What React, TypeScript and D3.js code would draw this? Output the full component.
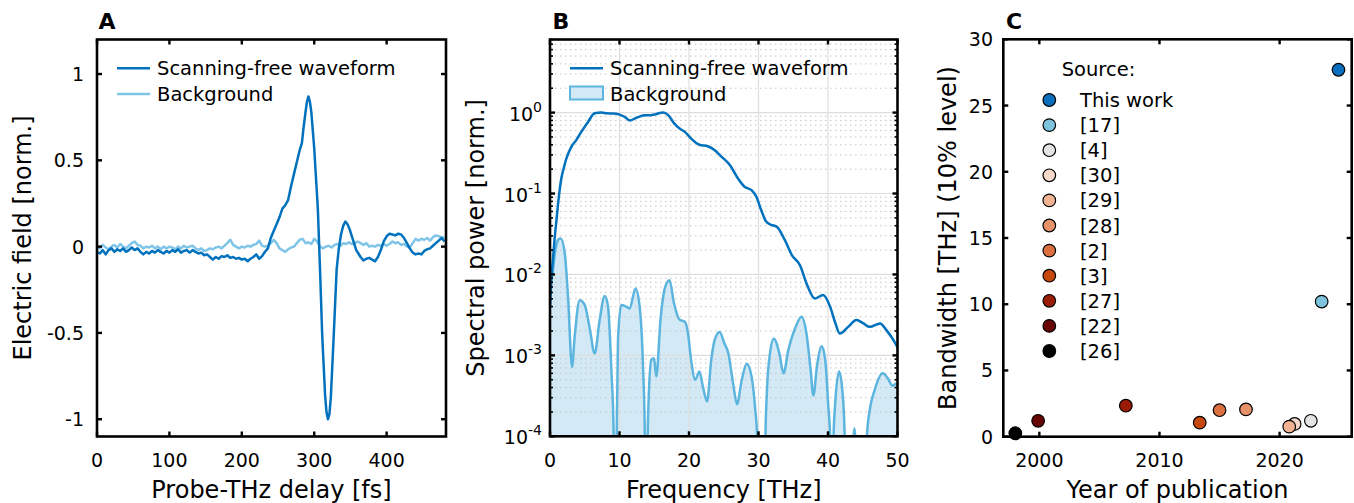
import React from 'react';
import * as d3 from 'd3';

const FONT = '"DejaVu Sans", Verdana, sans-serif';
const DARK = '#0072BD';
const LIGHT_A = '#80C5E8';
const LIGHT_B = '#5BB5DF';
const FILL_B = '#D3E9F5';

// ---- Panel A: time-domain waveforms [delay fs, field norm.]
const waveform: [number, number][] = [
  [0,-0.03],[4,-0.04],[8,-0.02],[12,-0.045],[16,-0.02],[20,-0.01],[24,-0.03],[28,-0.015],[32,-0.025],[36,-0.01],
  [40,-0.03],[44,-0.02],[48,-0.005],[52,-0.02],[56,-0.01],[60,-0.03],[64,-0.045],[68,-0.03],[72,-0.04],[76,-0.025],
  [80,-0.035],[84,-0.02],[88,-0.03],[92,-0.04],[96,-0.025],[100,-0.035],[104,-0.02],[108,-0.03],[112,-0.015],[116,-0.035],
  [120,-0.025],[124,-0.02],[128,-0.035],[132,-0.02],[136,-0.03],[140,-0.04],[144,-0.035],[148,-0.05],[152,-0.045],[156,-0.06],
  [160,-0.075],[164,-0.06],[168,-0.07],[172,-0.055],[176,-0.06],[180,-0.05],[184,-0.065],[188,-0.06],[192,-0.07],[196,-0.065],
  [200,-0.075],[204,-0.07],[208,-0.085],[212,-0.07],[216,-0.06],[220,-0.045],[224,-0.07],[228,-0.055],[232,-0.03],[236,-0.01],
  [240,0.05],[244,0.09],[248,0.13],[252,0.17],[256,0.22],[260,0.24],[264,0.27],[268,0.35],[272,0.42],[276,0.49],
  [280,0.56],[283,0.6],[285,0.68],[288,0.78],[290,0.84],[292,0.87],[294,0.84],[296,0.78],[300,0.57],[303,0.36],
  [305,0.22],[308,-0.13],[311,-0.51],[315,-0.86],[317,-0.96],[319,-1.0],[321,-0.97],[323,-0.87],[327,-0.51],[331,-0.13],
  [334,-0.01],[337,0.07],[340,0.12],[343,0.145],[346,0.13],[349,0.1],[352,0.06],[355,0.02],[358,-0.02],[361,-0.04],
  [364,-0.06],[368,-0.08],[372,-0.07],[376,-0.065],[380,-0.075],[384,-0.085],[388,-0.06],[392,-0.02],[396,0.03],[400,0.06],
  [404,0.075],[408,0.07],[412,0.065],[416,0.075],[420,0.07],[424,0.05],[428,0.02],[432,-0.01],[436,-0.035],[440,-0.045],
  [444,-0.04],[448,-0.045],[452,-0.025],[456,-0.015],[460,-0.01],[464,0.005],[468,0.02],[472,0.035],[476,0.05],[480,0.03],
];

const backgroundA: [number, number][] = [
  [0,0.0],[4,-0.01],[8,0.01],[12,-0.005],[16,-0.015],[20,0.0],[24,0.01],[28,-0.005],[32,0.015],[36,0.0],
  [40,-0.01],[44,0.005],[48,0.02],[52,0.03],[56,0.01],[60,0.005],[64,-0.01],[68,0.0],[72,-0.005],[76,0.005],
  [80,-0.01],[84,0.0],[88,-0.015],[92,0.0],[96,-0.01],[100,0.0],[104,-0.005],[108,-0.015],[112,0.0],[116,-0.01],
  [120,0.005],[124,-0.005],[128,0.0],[132,0.005],[136,-0.01],[140,-0.02],[144,-0.01],[148,-0.025],[152,-0.02],[156,-0.01],
  [160,-0.015],[164,-0.005],[168,0.0],[172,-0.01],[176,0.005],[180,0.02],[184,0.04],[188,0.01],[192,0.0],[196,-0.01],
  [200,0.0],[204,-0.005],[208,0.005],[212,0.0],[216,0.01],[220,0.015],[224,0.035],[228,0.005],[232,0.0],[236,0.005],
  [240,0.02],[244,0.04],[248,0.02],[252,-0.01],[256,-0.02],[260,-0.03],[264,-0.015],[268,-0.005],[272,0.0],[276,0.02],
  [280,0.04],[284,0.045],[288,0.02],[292,0.025],[296,0.015],[300,0.045],[304,0.03],[308,0.0],[312,-0.01],[316,0.0],
  [320,0.005],[324,-0.005],[328,0.01],[332,0.015],[336,0.005],[340,0.02],[344,0.015],[348,0.025],[352,0.015],[356,0.02],
  [360,0.03],[364,0.02],[368,0.01],[372,0.02],[376,0.0],[380,0.005],[384,0.0],[388,0.01],[392,0.005],[396,0.015],
  [400,0.005],[404,0.015],[408,0.03],[412,0.02],[416,0.025],[420,0.01],[424,0.015],[428,0.0],[432,-0.005],[436,0.02],
  [440,0.045],[444,0.035],[448,0.045],[452,0.04],[456,0.05],[460,0.035],[464,0.055],[468,0.065],[472,0.06],[476,0.055],[480,0.05],
];

const delayTicks = [0, 100, 200, 300, 400];
const fieldTicks = [-1, -0.5, 0, 0.5, 1];

// ---- Panel B: spectra [frequency THz, power norm.]
const spectrum: [number, number][] = [
  [0,0.004],[0.2,0.009],[0.43,0.0155],[0.7,0.03],[0.91,0.045],[1.2,0.08],[1.63,0.153],[2.0,0.21],[2.35,0.27],[3.07,0.377],
  [3.8,0.46],[4.5,0.577],[5.47,0.767],[6.43,0.98],[7.4,1.0],[8.2,0.98],[8.8,0.975],[9.5,0.97],[10.0,0.945],[10.8,0.88],
  [11.5,0.8],[12.4,0.86],[13.6,0.925],[14.5,0.93],[15.1,0.945],[15.8,0.99],[16.3,1.0],[17.0,0.93],[17.9,0.73],[18.6,0.64],
  [19.4,0.577],[20.3,0.478],[21.5,0.4],[22.7,0.384],[23.7,0.343],[24.7,0.284],[25.9,0.224],[27.05,0.153],[28.0,0.121],[29.0,0.11],
  [29.7,0.091],[30.4,0.062],[31.1,0.045],[31.8,0.041],[32.6,0.039],[33.8,0.0265],[34.8,0.0173],[35.97,0.013],[36.9,0.0078],[38.1,0.00505],
  [39.3,0.00556],[40.3,0.004],[41.0,0.0026],[41.7,0.00186],[42.9,0.00225],[44.1,0.00273],[45.1,0.00248],[46.0,0.00225],[47.5,0.00248],[48.4,0.00205],
  [49.4,0.00155],[50,0.00125],
];

const backgroundB: [number, number][] = [
  [0,0.008],[0.29,0.0093],[0.77,0.02],[1.2,0.027],[1.53,0.0278],[2.1,0.019],[2.6,0.0052],[3.17,0.00072],[3.55,0.0017],[4.27,0.0048],
  [4.99,0.0042],[5.7,0.0022],[6.43,0.00106],[7.15,0.00275],[7.87,0.0054],[8.35,0.004],[8.83,0.00066],[9.16,0.00011],[9.4,0.000001],[9.6,0.0001],
  [9.78,0.00155],[10.26,0.0042],[10.98,0.004],[11.46,0.0038],[12.3,0.0067],[12.9,0.004],[13.4,0.00066],[13.65,0.0001],[13.8,0.000001],[14.1,0.00016],
  [14.58,0.00088],[14.96,0.00092],[15.3,0.00055],[15.9,0.00275],[16.6,0.0071],[17.2,0.0085],[17.84,0.0044],[18.66,0.00275],[19.4,0.0026],[19.86,0.00186],
  [20.3,0.00088],[20.9,0.0005],[21.5,0.00063],[22.0,0.00041],[22.6,0.00027],[23.2,0.00088],[23.7,0.00155],[24.4,0.00195],[25.1,0.0014],[25.65,0.00107],
  [26.4,0.00042],[26.9,0.00025],[27.6,0.0005],[28.3,0.00079],[29.0,0.00055],[29.5,0.00023],[29.8,0.0001],[30.0,0.000001],[30.8,0.000001],[31.0,0.0001],
  [31.2,0.00034],[31.65,0.00106],[32.2,0.0016],[33.0,0.00106],[33.6,0.0006],[34.3,0.00117],[35.3,0.0022],[36.2,0.003],[36.9,0.00186],[37.5,0.00066],
  [37.9,0.00032],[38.4,0.00072],[39.1,0.0013],[39.6,0.00088],[40.05,0.00023],[40.3,0.0001],[40.6,0.000001],[40.8,0.0001],[41.0,0.00023],[41.6,0.00063],
  [42.1,0.00034],[42.4,0.0001],[42.6,0.000001],[43.5,0.000001],[43.65,0.00009],[43.8,0.000125],[43.95,0.00009],[44.1,0.000001],[45.3,0.000001],[45.6,0.0001],
  [46.0,0.00021],[46.7,0.00037],[47.9,0.0006],[48.6,0.00052],[49.3,0.00042],[49.8,0.00045],[50,0.00042],
];

const freqTicks = [0, 10, 20, 30, 40, 50];
const powerExponents = [-4, -3, -2, -1, 0];

// ---- Panel C: bandwidth vs year
const sourceLabels = ['This work', '[17]', '[4]', '[30]', '[29]', '[28]', '[2]', '[3]', '[27]', '[22]', '[26]'];
const sourceYears = [2024.9, 2023.5, 2022.6, 2021.25, 2020.8, 2017.2, 2015.0, 2013.35, 2007.2, 1999.9, 1998.0];
const sourceBandwidth = [27.7, 10.2, 1.2, 0.96, 0.76, 2.06, 2.0, 1.06, 2.34, 1.2, 0.26];
const sourceColors = ['#0B6FBE', '#7EC3DC', '#E4E4E4', '#F7D9CB', '#F2B393', '#E8926A', '#DC7040', '#C7480F', '#9B1C06', '#680606', '#000000'];
const yearTicks = [2000, 2010, 2020];
const bandwidthTicks = [0, 5, 10, 15, 20, 25, 30];

type Box = { l: number; r: number; t: number; b: number };

function Frame({ box }: { box: Box }) {
  return <rect x={box.l} y={box.t} width={box.r - box.l} height={box.b - box.t} fill="none" stroke="#000" strokeWidth={2.6} />;
}

function Ticks({ box, xs, ys, len = 5, w = 2.4 }: { box: Box; xs: number[]; ys: number[]; len?: number; w?: number }) {
  return (
    <g stroke="#000" strokeWidth={w}>
      {xs.map((x, i) => (
        <g key={'x' + i}>
          <line x1={x} x2={x} y1={box.b} y2={box.b - len} />
          <line x1={x} x2={x} y1={box.t} y2={box.t + len} />
        </g>
      ))}
      {ys.map((y, i) => (
        <g key={'y' + i}>
          <line x1={box.l} x2={box.l + len} y1={y} y2={y} />
          <line x1={box.r} x2={box.r - len} y1={y} y2={y} />
        </g>
      ))}
    </g>
  );
}

export default function App() {
  const TICK = 19;
  const LABEL = 24;
  const LEG = 19.5;
  const TITLE = 22;

  // Panel A
  const boxA: Box = { l: 97, r: 446, t: 39.5, b: 436.5 };
  const xA = d3.scaleLinear().domain([0, 482]).range([boxA.l, boxA.r]);
  const yA = d3.scaleLinear().domain([-1.1, 1.2]).range([boxA.b, boxA.t]);
  const lineA = d3.line<[number, number]>().x(d => xA(d[0])).y(d => yA(d[1]));

  // Panel B
  const boxB: Box = { l: 550, r: 897.5, t: 39.5, b: 436.3 };
  const xB = d3.scaleLinear().domain([0, 50]).range([boxB.l, boxB.r]);
  const yB = d3.scaleLog().domain([1e-4, 8]).range([boxB.b, boxB.t]);
  const lineB = d3.line<[number, number]>().x(d => xB(d[0])).y(d => yB(d[1])).curve(d3.curveMonotoneX);
  const areaB = d3.area<[number, number]>().x(d => xB(d[0])).y0(boxB.b + 10).y1(d => yB(d[1])).curve(d3.curveMonotoneX);
  const minorB: number[] = [];
  for (let e = -4; e <= 0; e++) for (let k = 2; k <= 9; k++) { const v = k * Math.pow(10, e); if (v <= 8) minorB.push(v); }

  // Panel C
  const boxC: Box = { l: 1003.3, r: 1351.7, t: 39.3, b: 436.7 };
  const xC = d3.scaleLinear().domain([1997, 2026]).range([boxC.l, boxC.r]);
  const yC = d3.scaleLinear().domain([0, 30]).range([boxC.b, boxC.t]);

  const tickBaseline = 466.5;

  return (
    <svg width={1354} height={503} style={{ position: 'absolute', left: 0, top: 0, background: '#fff' }} fontFamily={FONT}>
      <defs>
        <clipPath id="clipA"><rect x={boxA.l} y={boxA.t} width={boxA.r - boxA.l} height={boxA.b - boxA.t} /></clipPath>
        <clipPath id="clipB"><rect x={boxB.l} y={boxB.t} width={boxB.r - boxB.l} height={boxB.b - boxB.t} /></clipPath>
      </defs>

      {/* ---------- Panel A ---------- */}
      <text x={98.5} y={29} fontSize={TITLE} fontWeight="bold">A</text>
      <g clipPath="url(#clipA)">
        <path d={lineA(backgroundA) || ''} fill="none" stroke={LIGHT_A} strokeWidth={2.5} strokeLinejoin="round" />
        <path d={lineA(waveform) || ''} fill="none" stroke={DARK} strokeWidth={2.5} strokeLinejoin="round" />
      </g>
      <Ticks box={boxA} xs={delayTicks.map(xA)} ys={fieldTicks.map(yA)} />
      <Frame box={boxA} />
      {delayTicks.map(t => (
        <text key={t} x={xA(t)} y={tickBaseline} fontSize={TICK} textAnchor="middle">{t}</text>
      ))}
      {fieldTicks.map(v => (
        <text key={v} x={84} y={yA(v) + 7} fontSize={TICK} textAnchor="end">{String(v)}</text>
      ))}
      <text x={(boxA.l + boxA.r) / 2} y={498} fontSize={LABEL} textAnchor="middle">Probe-THz delay [fs]</text>
      <text transform={`translate(31,${(boxA.t + boxA.b) / 2}) rotate(-90)`} fontSize={LABEL} textAnchor="middle">Electric field [norm.]</text>
      <line x1={117} x2={150} y1={68.3} y2={68.3} stroke={DARK} strokeWidth={2.5} />
      <text x={157} y={75} fontSize={LEG}>Scanning-free waveform</text>
      <line x1={117} x2={150} y1={94} y2={94} stroke={LIGHT_A} strokeWidth={2.5} />
      <text x={157} y={100.7} fontSize={LEG}>Background</text>

      {/* ---------- Panel B ---------- */}
      <text x={552.5} y={28.5} fontSize={TITLE} fontWeight="bold">B</text>
      <g clipPath="url(#clipB)">
        <path d={areaB(backgroundB) || ''} fill={FILL_B} stroke="none" />
        {minorB.map((v, i) => (
          <line key={'mg' + i} x1={boxB.l} x2={boxB.r} y1={yB(v)} y2={yB(v)} stroke="#c4c4c4" strokeWidth={1} strokeDasharray="1.5 3.5" />
        ))}
        {powerExponents.map(e => (
          <line key={'g' + e} x1={boxB.l} x2={boxB.r} y1={yB(Math.pow(10, e))} y2={yB(Math.pow(10, e))} stroke="#dedede" strokeWidth={1.2} />
        ))}
        {freqTicks.map(f => (
          <line key={'gx' + f} x1={xB(f)} x2={xB(f)} y1={boxB.t} y2={boxB.b} stroke="#dedede" strokeWidth={1.2} />
        ))}
        <path d={lineB(backgroundB) || ''} fill="none" stroke={LIGHT_B} strokeWidth={2.5} strokeLinejoin="round" />
        <path d={lineB(spectrum) || ''} fill="none" stroke={DARK} strokeWidth={2.5} strokeLinejoin="round" />
      </g>
      <Ticks box={boxB} xs={freqTicks.map(xB)} ys={powerExponents.map(e => yB(Math.pow(10, e)))} />
      <Ticks box={boxB} xs={[]} ys={minorB.map(v => yB(v))} len={3} w={1.6} />
      <Frame box={boxB} />
      {freqTicks.map(f => (
        <text key={f} x={xB(f)} y={tickBaseline} fontSize={TICK} textAnchor="middle">{f}</text>
      ))}
      {powerExponents.map(e => (
        <text key={e} x={542} y={yB(Math.pow(10, e)) + 8} fontSize={TICK} textAnchor="end">
          10<tspan dy={-9} fontSize={14}>{String(e)}</tspan>
        </text>
      ))}
      <text x={(boxB.l + boxB.r) / 2} y={498} fontSize={LABEL} textAnchor="middle">Frequency [THz]</text>
      <text transform={`translate(484,${(boxB.t + boxB.b) / 2}) rotate(-90)`} fontSize={LABEL} textAnchor="middle">Spectral power [norm.]</text>
      <line x1={570} x2={603} y1={68.3} y2={68.3} stroke={DARK} strokeWidth={2.5} />
      <text x={610} y={75} fontSize={LEG}>Scanning-free waveform</text>
      <rect x={570} y={86.5} width={33} height={13} fill={FILL_B} stroke={LIGHT_B} strokeWidth={2} />
      <text x={610} y={100.7} fontSize={LEG}>Background</text>

      {/* ---------- Panel C ---------- */}
      <text x={1006} y={28.5} fontSize={TITLE} fontWeight="bold">C</text>
      {sourceLabels.map((s, i) => (
        <circle key={s} cx={xC(sourceYears[i])} cy={yC(sourceBandwidth[i])} r={6.3} fill={sourceColors[i]} stroke="#000" strokeWidth={1.2} />
      ))}
      <Ticks box={boxC} xs={yearTicks.map(xC)} ys={bandwidthTicks.map(yC)} />
      <Frame box={boxC} />
      {yearTicks.map(y => (
        <text key={y} x={xC(y)} y={tickBaseline} fontSize={TICK} textAnchor="middle">{y}</text>
      ))}
      {bandwidthTicks.map(v => (
        <text key={v} x={993} y={yC(v) + 7} fontSize={TICK} textAnchor="end">{v}</text>
      ))}
      <text x={(boxC.l + boxC.r) / 2} y={498} fontSize={LABEL} textAnchor="middle">Year of publication</text>
      <text transform={`translate(956,${(boxC.t + boxC.b) / 2}) rotate(-90)`} fontSize={LABEL} textAnchor="middle">Bandwidth [THz] (10% level)</text>
      <text x={1061.7} y={76} fontSize={LEG}>Source:</text>
      {sourceLabels.map((s, i) => (
        <g key={'leg' + s}>
          <circle cx={1049.3} cy={100 + i * 25.1} r={6.3} fill={sourceColors[i]} stroke="#000" strokeWidth={1.2} />
          <text x={1080} y={100 + i * 25.1 + 7} fontSize={LEG}>{s}</text>
        </g>
      ))}
    </svg>
  );
}
